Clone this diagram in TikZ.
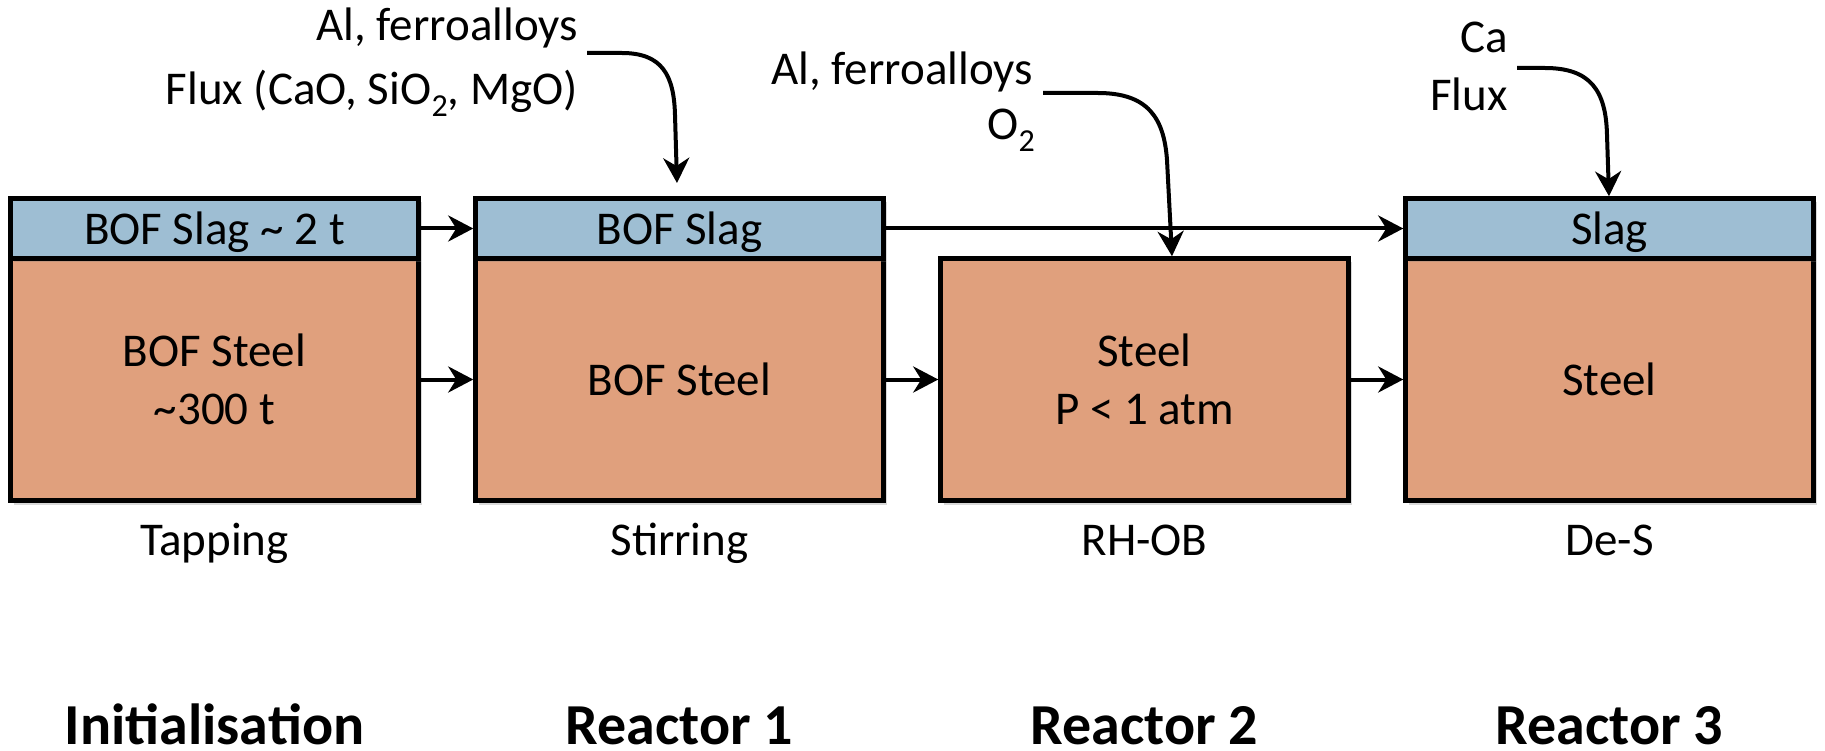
\documentclass[tikz,border=0pt]{standalone}
\usepackage{fontspec}
\setmainfont{Carlito}
\usetikzlibrary{arrows.meta,shadows}
\definecolor{slagblue}{RGB}{158,190,211}
\definecolor{steelorg}{RGB}{224,160,125}
\newcommand{\subtwo}{\raisebox{-12pt}{\fontsize{32}{32}\selectfont 2}}
\tikzset{
  layer/.style={draw=black, line width=4.5pt, minimum width=408pt, text depth=0pt,
    align=center, inner sep=0pt, font=\fontsize{47}{58}\selectfont,
    drop shadow={shadow xshift=3pt, shadow yshift=-4pt, opacity=0.3}},
  slagbox/.style={layer, fill=slagblue, minimum height=60pt},
  steelbox/.style={layer, fill=steelorg, minimum height=242pt},
  txt/.style={font=\fontsize{47}{58}\selectfont, inner sep=0pt},
  bigtxt/.style={font=\fontsize{58}{70}\selectfont\bfseries, inner sep=0pt},
  flow/.style={line width=4pt, -{Stealth[length=25pt,width=26pt,inset=8pt]}},
}
\begin{document}
\begin{tikzpicture}[x=1pt,y=-1pt]
\useasboundingbox (0,0) rectangle (1825,751);
% steel layers
\node[steelbox] (st1) at (214.5,379.5) {BOF Steel\\\textasciitilde300 t};
\node[steelbox] (st2) at (679.5,379.5) {BOF Steel};
\node[steelbox] (st3) at (1144.5,379.5) {Steel\\P < 1 atm};
\node[steelbox] (st4) at (1609.5,379.5) {Steel};
% slag layers
\node[slagbox] (s1) at (214.5,228.5) {BOF Slag \textasciitilde{} 2 t};
\node[slagbox] (s2) at (679.5,228.5) {BOF Slag};
\node[slagbox] (s4) at (1609.5,228.5) {Slag};
% flows between reactors
\draw[flow] (s1.east) -- (s2.west);
\draw[flow] (st1.east) -- (st2.west);
\draw[flow] (st2.east) -- (st3.west);
\draw[flow] (st3.east) -- (st4.west);
\draw[flow] (s2.east) -- (s4.west);
% additions
\node[txt, anchor=base east] (t1a) at (578,41) {Al, ferroalloys};
\node[txt, anchor=base east] (t1b) at (578,105) {Flux (CaO, SiO\subtwo, MgO)};
\coordinate (a1s) at (587,53);
\coordinate (a1e) at (677,183);
\draw[flow] (a1s) -- (622,53) .. controls (662,53) and (674,75) .. (675,115) -- (a1e);

\node[txt, anchor=base east] (t2a) at (1033,85) {Al, ferroalloys};
\node[txt, anchor=base east] (t2b) at (1035,140) {O\subtwo};
\coordinate (a2s) at (1043,93);
\coordinate (a2e) at (1172,256.25);
\draw[flow] (a2s) -- (1098,93) .. controls (1148,93) and (1164,118) .. (1167,160) -- (a2e);

\node[txt, anchor=base east] (t3a) at (1508,53) {Ca};
\node[txt, anchor=base east] (t3b) at (1508,111) {Flux};
\coordinate (a3s) at (1517,68);
\coordinate (a3e) at (1609,196.25);
\draw[flow] (a3s) -- (1545,68) .. controls (1590,68) and (1606,90) .. (1607,135) -- (a3e);
% labels
\node[txt, anchor=base] (l1) at (214.5,555) {Tapping};
\node[txt, anchor=base] (l2) at (679.5,555) {Stirring};
\node[txt, anchor=base] (l3) at (1144.5,555) {RH-OB};
\node[txt, anchor=base] (l4) at (1609.5,555) {De-S};
\node[bigtxt, anchor=base] (r1) at (214.5,744) {Initialisation};
\node[bigtxt, anchor=base] (r2) at (679.5,744) {Reactor 1};
\node[bigtxt, anchor=base] (r3) at (1144.5,744) {Reactor 2};
\node[bigtxt, anchor=base] (r4) at (1609.5,744) {Reactor 3};
\end{tikzpicture}
\end{document}
